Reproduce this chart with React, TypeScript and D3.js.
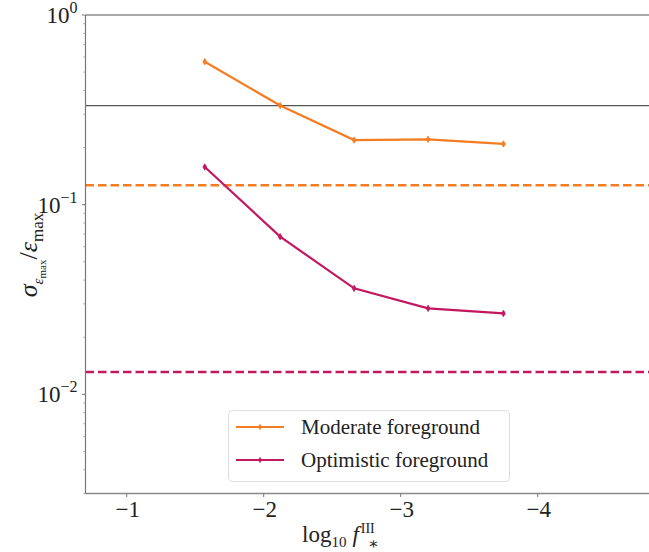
import React from "react";
import * as d3 from "d3";

const xValues = [-1.57, -2.12, -2.66, -3.2, -3.75];
const moderate = [0.567, 0.333, 0.219, 0.221, 0.209];
const optimistic = [0.158, 0.0678, 0.0362, 0.0284, 0.0267];
const moderateRef = 0.1265;
const optimisticRef = 0.0131;
const grayLines = [1, 0.333];
const xTicks = [-1, -2, -3, -4];
const yMajor = [1, 0.1, 0.01];
const yMajorExp = ["0", "\u22121", "\u22122"];

const W = 649, H = 552;
const left = 85.5, top = 15, bottom = 493.5;
const ORANGE = "#f47d23";
const MAGENTA = "#c2185f";
const FONT = "'Liberation Serif', 'DejaVu Serif', serif";

export default function App() {
  const x = d3.scaleLinear().domain([-1, -4]).range([126.7, 537.7]);
  const right = 680;
  const y = d3.scaleLog().domain([0.003, 1]).range([bottom, top]);

  const minor: number[] = [];
  for (const dec of [0.001, 0.01, 0.1]) {
    for (let k = 2; k <= 9; k++) {
      const v = dec * k;
      if (v >= 0.003 && v < 1) minor.push(v);
    }
  }

  const line = d3
    .line<[number, number]>()
    .x((d) => x(d[0]))
    .y((d) => y(d[1]));

  const series = [
    { vals: moderate, color: ORANGE, ref: moderateRef, label: "Moderate foreground" },
    { vals: optimistic, color: MAGENTA, ref: optimisticRef, label: "Optimistic foreground" },
  ];

  const diamond = (cx: number, cy: number, s = 3.2) =>
    `M${cx},${cy - s}L${cx + s * 0.6},${cy}L${cx},${cy + s}L${cx - s * 0.6},${cy}Z`;

  return (
    <svg width={W} height={H} style={{ position: "absolute", left: 0, top: 0, background: "#fff" }}>
      <defs>
        <clipPath id="plot">
          <rect x={left} y={top - 2} width={W - left} height={bottom - top + 2} />
        </clipPath>
      </defs>
      <rect width={W} height={H} fill="#fff" />
      <g clipPath="url(#plot)">
        {grayLines.map((v, i) => (
          <line key={i} x1={left} x2={right} y1={y(v)} y2={y(v)} stroke="#555" strokeWidth={1.2} />
        ))}
        {series.map((s, i) => (
          <line
            key={"r" + i}
            x1={left}
            x2={right}
            y1={y(s.ref)}
            y2={y(s.ref)}
            stroke={s.color}
            strokeWidth={2.5}
            strokeDasharray="8.5,4"
          />
        ))}
        {series.map((s, i) => (
          <g key={"s" + i}>
            <path
              d={line(xValues.map((xv, j) => [xv, s.vals[j]] as [number, number])) || ""}
              fill="none"
              stroke={s.color}
              strokeWidth={2.2}
            />
            {xValues.map((xv, j) => (
              <path key={j} d={diamond(x(xv), y(s.vals[j]))} fill={s.color} stroke={s.color} strokeWidth={0.8} />
            ))}
          </g>
        ))}
      </g>
      {/* spines */}
      <line x1={left} x2={left} y1={top} y2={bottom} stroke="#777" strokeWidth={1.2} />
      <line x1={left} x2={W} y1={bottom} y2={bottom} stroke="#888" strokeWidth={1.4} />
      {/* y ticks */}
      {yMajor.map((v, i) => (
        <g key={"ym" + i}>
          <line x1={left - 3.5} x2={left} y1={y(v)} y2={y(v)} stroke="#777" strokeWidth={1} />
          <text x={left - 8} y={y(v) + 8} textAnchor="end" fontFamily={FONT} fontSize={23} fill="#222">
            10
            <tspan dy={-10} fontSize={16}>
              {yMajorExp[i]}
            </tspan>
          </text>
        </g>
      ))}
      {minor.map((v, i) => (
        <line key={"yn" + i} x1={left - 2} x2={left} y1={y(v)} y2={y(v)} stroke="#888" strokeWidth={0.8} />
      ))}
      {/* x ticks */}
      {xTicks.map((v, i) => (
        <g key={"xt" + i}>
          <line x1={x(v)} x2={x(v)} y1={bottom} y2={bottom + 3.5} stroke="#777" strokeWidth={1} />
          <text x={x(v) + 1} y={bottom + 23} textAnchor="middle" fontFamily={FONT} fontSize={23} fill="#222">
            {"\u2212" + Math.abs(v)}
          </text>
        </g>
      ))}
      {/* x label */}
      <text x={302} y={542} fontFamily={FONT} fontSize={23} fill="#222">
        log
        <tspan fontSize={15} dy={5}>10</tspan>
        <tspan dy={-5} dx={6} fontStyle="italic">f</tspan>
        <tspan fontSize={14} dy={-9} dx={2}>III</tspan>
      </text>
      <text x={368} y={549} fontFamily={FONT} fontSize={16} fill="#222">
        {"\u2217"}
      </text>
      {/* y label */}
      <g transform="translate(37,255) rotate(-90)">
        <text textAnchor="middle" fontFamily={FONT} fontSize={26} fill="#222">
          <tspan fontStyle="italic">σ</tspan>
          <tspan fontSize={15} dy={6} fontStyle="italic">ε</tspan>
          <tspan fontSize={11} dy={3}>max</tspan>
          <tspan dy={-9}>/</tspan>
          <tspan fontStyle="italic">ε</tspan>
          <tspan fontSize={17} dy={6}>max</tspan>
        </text>
      </g>
      {/* legend */}
      <rect x={228.5} y={410.5} width={281} height={71} rx={4} fill="#fff" fillOpacity={0.85} stroke="#ddd" strokeWidth={1} />
      {series.map((s, i) => {
        const ly = 427 + i * 33;
        return (
          <g key={"lg" + i}>
            <line x1={236} x2={284} y1={ly} y2={ly} stroke={s.color} strokeWidth={2.2} />
            <path d={diamond(260, ly, 2.6)} fill={s.color} stroke={s.color} strokeWidth={0.8} />
            <text x={301} y={ly + 7} fontFamily={FONT} fontSize={21} fill="#222">
              {s.label}
            </text>
          </g>
        );
      })}
    </svg>
  );
}
